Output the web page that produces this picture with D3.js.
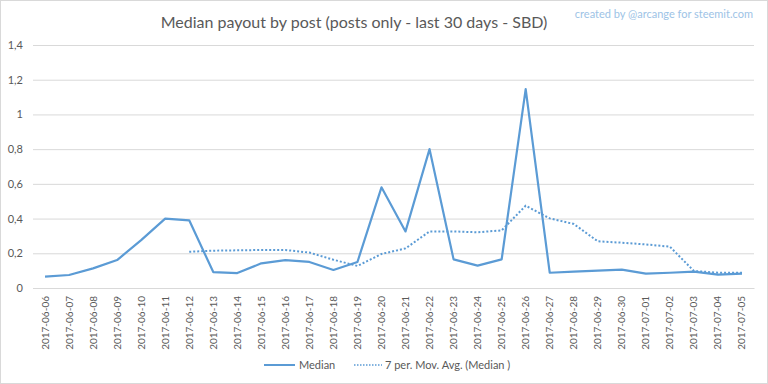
<!DOCTYPE html>
<html><head><meta charset="utf-8">
<script src="https://cdn.jsdelivr.net/npm/d3@7"></script>
<style>body{margin:0;background:#fff}svg{display:block}</style>
</head><body><svg id="c" width="768" height="384"></svg>
<script>
const dates = ["2017-06-06","2017-06-07","2017-06-08","2017-06-09","2017-06-10","2017-06-11","2017-06-12","2017-06-13","2017-06-14","2017-06-15","2017-06-16","2017-06-17","2017-06-18","2017-06-19","2017-06-20","2017-06-21","2017-06-22","2017-06-23","2017-06-24","2017-06-25","2017-06-26","2017-06-27","2017-06-28","2017-06-29","2017-06-30","2017-07-01","2017-07-02","2017-07-03","2017-07-04","2017-07-05"];
const median = [0.065,0.075,0.113,0.161,0.276,0.400,0.390,0.092,0.086,0.142,0.161,0.150,0.104,0.150,0.580,0.326,0.800,0.165,0.129,0.165,1.146,0.088,0.094,0.100,0.106,0.083,0.088,0.094,0.077,0.083];
const movAvg = [null,null,null,null,null,null,0.209,0.215,0.217,0.219,0.219,0.204,0.163,0.127,0.196,0.228,0.326,0.326,0.321,0.332,0.474,0.401,0.369,0.269,0.261,0.251,0.238,0.098,0.088,0.088];
const yTicks = [0,0.2,0.4,0.6,0.8,1,1.2,1.4];
const title = "Median payout by post (posts only - last 30 days - SBD)";
const credit = "created by @arcange for steemit.com";
const seriesNames = ["Median","7 per. Mov. Avg. (Median )"];

const svg = d3.select("#c");
const W=768,H=384, m={l:33,r:14,t:45,b:96};
const font = "Lato, 'Open Sans', sans-serif";
const blue = "#5B9BD5";
svg.append("rect").attr("x",0.5).attr("y",0.5).attr("width",W-1).attr("height",H-1).attr("fill","#fff").attr("stroke","#D9D9D9");

const x = d3.scaleBand().domain(dates).range([m.l, W-m.r]);
const y = d3.scaleLinear().domain([0,1.4]).range([H-m.b, m.t]);
const fmt = v => String(+v.toFixed(1)).replace(".",",");

const ga = svg.append("g").attr("transform",`translate(${m.l},0)`)
  .call(d3.axisLeft(y).tickValues(yTicks).tickFormat(fmt).tickSize(-(W-m.l-m.r)).tickPadding(10));
ga.select(".domain").remove();
ga.selectAll("line").attr("stroke","#D9D9D9").attr("stroke-width",1);
ga.selectAll("text").attr("fill","#595959").style("font-family",font).style("font-size","11px");

const gx = svg.append("g").attr("transform",`translate(0,${H-m.b})`)
  .call(d3.axisBottom(x).tickSize(0).tickPadding(0));
gx.select(".domain").attr("stroke","#D9D9D9");
gx.selectAll("text").attr("fill","#595959").style("font-family",font).style("font-size","10px")
  .attr("text-anchor","end").attr("dy","0.35em").attr("transform","translate(0,8) rotate(-90)");

const xc = d => x(d)+x.bandwidth()/2;
const line = d3.line().defined(d=>d[1]!=null).x(d=>xc(d[0])).y(d=>y(d[1]));
svg.append("path").datum(dates.map((d,i)=>[d,movAvg[i]])).attr("d",line)
  .attr("fill","none").attr("stroke",blue).attr("stroke-width",2).attr("stroke-dasharray","2,2");
svg.append("path").datum(dates.map((d,i)=>[d,median[i]])).attr("d",line)
  .attr("fill","none").attr("stroke",blue).attr("stroke-width",2.2).attr("stroke-linejoin","round");

svg.append("text").attr("x",354).attr("y",28).attr("text-anchor","middle").attr("fill","#595959")
  .style("font-family",font).style("font-size","16px").text(title);
svg.append("text").attr("x",753).attr("y",18).attr("text-anchor","end").attr("fill","#9DC3E6")
  .style("font-family",font).style("font-size","11px").text(credit);

const lg = svg.append("g");
lg.append("line").attr("x1",264).attr("x2",295).attr("y1",365).attr("y2",365).attr("stroke",blue).attr("stroke-width",2);
lg.append("text").attr("x",299).attr("y",369).attr("fill","#595959").style("font-family",font).style("font-size","11px").text(seriesNames[0]);
lg.append("line").attr("x1",354).attr("x2",382).attr("y1",365).attr("y2",365).attr("stroke",blue).attr("stroke-width",1.5).attr("stroke-dasharray","1.5,1.5");
lg.append("text").attr("x",385).attr("y",369).attr("fill","#595959").style("font-family",font).style("font-size","11px").text(seriesNames[1]);
</script></body></html>
